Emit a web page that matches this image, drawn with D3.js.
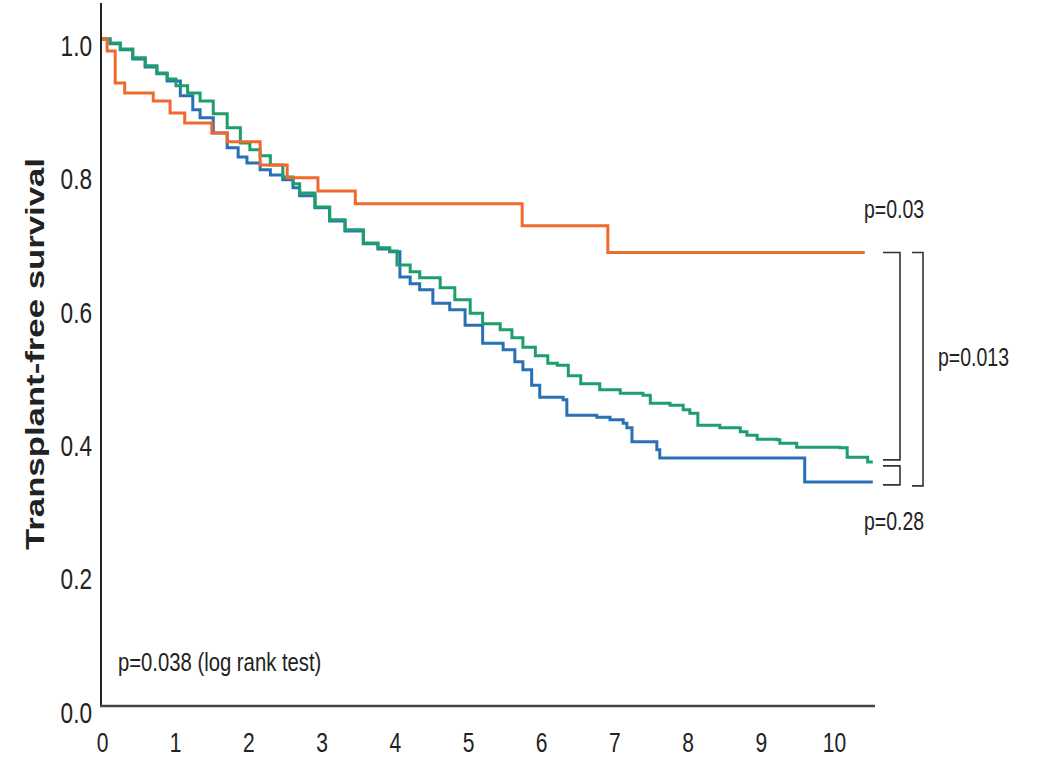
<html>
<meta charset="utf-8" />
<head>
<title>Transplant-free survival</title>
<script src="https://cdn.jsdelivr.net/npm/d3@7"></script>
<style>
	body { margin: 0; background: #fff; }
	text { font-family: "Liberation Sans", Arial, sans-serif; fill: #222; }
</style>
<script>

// Kaplan-Meier steps: [years, survival]
const orange = [
	[0, 1.0], [0.07, 0.982], [0.18, 0.934], [0.31, 0.919], [0.70, 0.907], [0.93, 0.889],
	[1.13, 0.874], [1.50, 0.859], [1.71, 0.846], [2.16, 0.811], [2.53, 0.792], [2.95, 0.772],
	[3.46, 0.753], [5.74, 0.720], [6.91, 0.680], [10.42, 0.680]
];

const green = [
	[0, 1.0], [0.11, 0.994], [0.25, 0.985], [0.42, 0.972], [0.59, 0.960], [0.75, 0.949],
	[0.89, 0.940], [1.01, 0.930], [1.17, 0.919], [1.34, 0.907], [1.52, 0.888], [1.71, 0.867],
	[1.89, 0.844], [2.02, 0.834], [2.16, 0.825], [2.30, 0.811], [2.47, 0.793], [2.61, 0.783],
	[2.70, 0.769], [2.91, 0.748], [3.11, 0.729], [3.32, 0.714], [3.57, 0.694], [3.77, 0.687],
	[3.93, 0.682], [4.03, 0.661], [4.21, 0.651], [4.34, 0.642], [4.62, 0.627], [4.82, 0.609],
	[5.03, 0.589], [5.20, 0.573], [5.44, 0.564], [5.60, 0.552], [5.75, 0.538], [5.92, 0.525],
	[6.09, 0.514], [6.22, 0.511], [6.37, 0.495], [6.54, 0.483], [6.80, 0.474], [7.08, 0.469],
	[7.39, 0.466], [7.49, 0.454], [7.76, 0.451], [7.94, 0.444], [8.03, 0.439], [8.14, 0.421],
	[8.44, 0.417], [8.72, 0.411], [8.81, 0.406], [8.95, 0.400], [9.22, 0.399], [9.26, 0.394],
	[9.49, 0.388], [10.08, 0.387], [10.18, 0.373], [10.40, 0.373], [10.46, 0.366], [10.53, 0.366]
];

const blue = [
	[0, 1.0], [0.11, 0.993], [0.25, 0.984], [0.42, 0.970], [0.59, 0.958], [0.75, 0.948],
	[0.89, 0.937], [1.07, 0.915], [1.24, 0.894], [1.34, 0.882], [1.52, 0.859], [1.71, 0.837],
	[1.86, 0.823], [1.98, 0.814], [2.16, 0.804], [2.30, 0.796], [2.47, 0.789], [2.61, 0.777],
	[2.70, 0.765], [2.91, 0.747], [3.11, 0.727], [3.32, 0.712], [3.57, 0.693], [3.77, 0.685],
	[3.93, 0.681], [4.07, 0.643], [4.21, 0.633], [4.34, 0.624], [4.52, 0.604], [4.75, 0.594],
	[4.96, 0.571], [5.20, 0.544], [5.48, 0.534], [5.64, 0.516], [5.75, 0.504], [5.87, 0.481],
	[5.98, 0.463], [6.30, 0.459], [6.35, 0.436], [6.76, 0.433], [6.94, 0.429], [7.12, 0.424],
	[7.17, 0.417], [7.24, 0.396], [7.53, 0.396], [7.58, 0.384], [7.62, 0.372], [9.58, 0.372],
	[9.60, 0.336], [10.53, 0.336]
];

const xTicks = [0, 1, 2, 3, 4, 5, 6, 7, 8, 9, 10];
const yTicks = [0, 0.2, 0.4, 0.6, 0.8, 1.0];
const pLabels = ["p=0.03", "p=0.013", "p=0.28", "p=0.038 (log rank test)"];

window.onload = function() {
	const svg = d3.select('svg');
	const sx = 0.78;	// the picture is squeezed sideways, so text is narrowed

	const x = d3.scaleLinear().domain([0, 10.56]).range([102, 875]);
	const y = d3.scaleLinear().domain([0, 1]).range([706, 39]);

	// axes without tick marks
	const gx = svg.append('g')
		.attr('transform', 'translate(0,' + y(0) + ')')
		.call(d3.axisBottom(x).tickValues(xTicks).tickSize(0).tickPadding(27).tickFormat(d3.format('d')));
	gx.select('.domain').remove();
	gx.selectAll('text')
		.style('font-size', '27px')
		.attr('transform', 'scale(' + sx + ',1)');

	const gy = svg.append('g')
		.attr('transform', 'translate(' + x(0) + ',0)')
		.call(d3.axisLeft(y).tickValues(yTicks).tickSize(0).tickPadding(10).tickFormat(d3.format('.1f')));
	gy.select('.domain').remove();
	gy.selectAll('text')
		.style('font-size', '29px')
		.attr('dy', '0.56em')
		.attr('x', -10 / sx)
		.attr('transform', 'scale(' + sx + ',1)');
	svg.selectAll('.tick text').style('fill', '#222');

	svg.append('line')
		.attr('x1', x(0) - 1).attr('x2', x(0) - 1)
		.attr('y1', 3).attr('y2', y(0) + 1)
		.style('stroke', '#222').style('stroke-width', '2px');
	svg.append('line')
		.attr('x1', x(0) - 2).attr('x2', x(10.56))
		.attr('y1', y(0)).attr('y2', y(0))
		.style('stroke', '#444').style('stroke-width', '2.5px');

	// survival curves
	const line = d3.line()
		.x(function(d) { return x(d[0]); })
		.y(function(d) { return y(d[1]); })
		.curve(d3.curveStepAfter);

	const series = [
		{ data: blue, color: '#2a70b5' },
		{ data: green, color: '#1c9f6b' },
		{ data: orange, color: '#ef6a2c' }
	];
	svg.selectAll('path.km')
		.data(series)
		.enter()
		.append('path')
		.attr('class', 'km')
		.attr('d', function(d) { return line(d.data); })
		.style('fill', 'none')
		.style('stroke', function(d) { return d.color; })
		.style('stroke-width', '3px');

	// brackets between the end points
	const oEnd = y(orange[orange.length - 1][1]);
	const gEnd = y(green[green.length - 1][1]);
	const bEnd = y(blue[blue.length - 1][1]);
	const brackets = [
		'M883,' + oEnd + 'H900V' + (gEnd - 2) + 'H883',
		'M883,' + (gEnd + 4) + 'H900V' + (bEnd + 3) + 'H883',
		'M912,' + oEnd + 'H923V' + (bEnd + 4) + 'H912'
	];
	svg.selectAll('path.br')
		.data(brackets)
		.enter()
		.append('path')
		.attr('class', 'br')
		.attr('d', function(d) { return d; })
		.style('fill', 'none')
		.style('stroke', '#333')
		.style('stroke-width', '1.6px');

	// p values
	const pPos = [[864, 218], [938, 366], [864, 530], [118, 671]];
	svg.selectAll('text.p')
		.data(pLabels)
		.enter()
		.append('text')
		.attr('class', 'p')
		.attr('transform', function(d, i) { return 'translate(' + pPos[i][0] + ',' + pPos[i][1] + ') scale(' + sx + ',1)'; })
		.style('font-size', function(d, i) { return i == 3 ? '26px' : '25px'; })
		.text(function(d) { return d; });

	// y title
	svg.append('text')
		.attr('transform', 'translate(44,354) rotate(-90)')
		.attr('text-anchor', 'middle')
		.attr('textLength', 392)
		.attr('lengthAdjust', 'spacingAndGlyphs')
		.style('font-size', '26px')
		.style('font-weight', 'bold')
		.text('Transplant-free survival');
}

</script>
</head>
<body>
	<svg style="width:1038px;height:760px;display:block;" />
</body>
</html>
